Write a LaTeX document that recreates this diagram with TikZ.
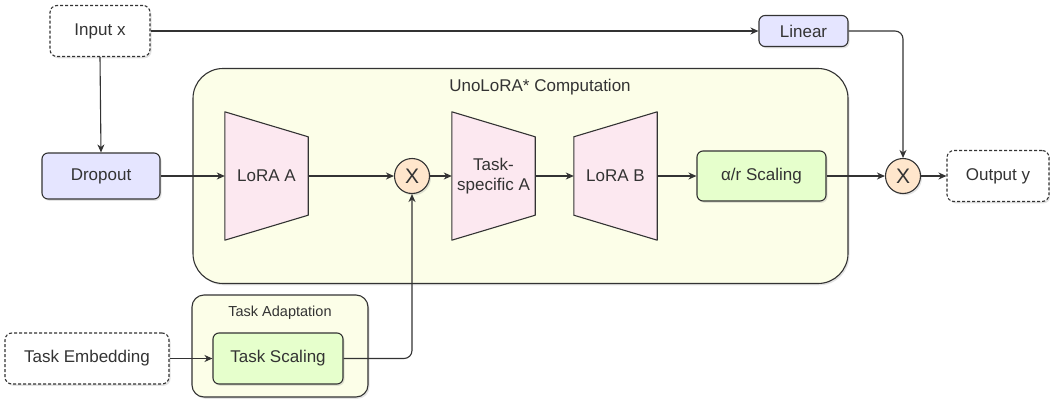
\documentclass[tikz,border=0pt]{standalone}
\usepackage{fontspec}
\setmainfont{Liberation Sans}
\usetikzlibrary{arrows.meta,shadows,calc}
\definecolor{lav}{HTML}{E5E5FF}
\definecolor{grn}{HTML}{E6FFCC}
\definecolor{cont}{HTML}{FCFEE8}
\definecolor{pnk}{HTML}{FCE8F0}
\definecolor{pch}{HTML}{FFE6CC}
\definecolor{ln}{HTML}{333333}
\tikzset{
  base/.style={draw=ln, line width=1.1pt, inner sep=0pt, text=ln,
    font=\fontsize{17}{20}\selectfont, align=center},
  shad/.style={drop shadow={shadow xshift=1.5pt, shadow yshift=-1.8pt, opacity=0.22}},
  iobox/.style={base, dashed, dash pattern=on 3pt off 2pt, rounded corners=7pt, fill=white, shad},
  lavbox/.style={base, rounded corners=6pt, fill=lav, shad},
  grnbox/.style={base, rounded corners=6pt, fill=grn, shad},
  container/.style={base, fill=cont, shad},
  mult/.style={base, circle, fill=pch, minimum size=35pt, shad, font=\fontsize{21}{24}\selectfont},
  trap/.style={inner sep=0pt, text=ln, font=\fontsize{17}{20}\selectfont, align=center,
    minimum width=83pt, minimum height=128pt},
  trapfill/.style={draw=ln, line width=1.1pt, fill=pnk, line join=round},
  conn/.style={draw=ln, line width=1.1pt, -{Stealth[length=8pt,width=7pt,inset=2.5pt]}},
  ttl/.style={text=ln, inner sep=0pt, font=\fontsize{17}{20}\selectfont}
}
\begin{document}
\begin{tikzpicture}[x=1pt,y=-1pt]
\useasboundingbox (0,0) rectangle (1050,399);
% containers
\node[container, rounded corners=30pt, minimum width=655pt, minimum height=215pt] (comp) at (520.5,176) {};
\node[ttl] (comptitle) at (540,87) {UnoLoRA* Computation};
\node[container, rounded corners=12pt, minimum width=176pt, minimum height=102pt] (adapt) at (280,346) {};
\node[ttl, font=\fontsize{14.5}{17}\selectfont] (adapttitle) at (280,313) {Task Adaptation};
% io
\node[iobox, minimum width=100pt, minimum height=51pt] (in) at (100,31) {Input x};
\node[iobox, minimum width=102pt, minimum height=51pt] (out) at (998,176) {Output y};
\node[iobox, minimum width=164pt, minimum height=51pt] (temb) at (87,358.5) {Task Embedding};
% boxes
\node[lavbox, minimum width=89pt, minimum height=31pt] (lin) at (803.5,31) {Linear};
\node[lavbox, minimum width=118pt, minimum height=46pt] (drop) at (101,176) {Dropout};
\node[grnbox, minimum width=129pt, minimum height=50pt] (scal) at (761.5,176) {α/r Scaling};
\node[grnbox, minimum width=130pt, minimum height=51pt] (tscal) at (278,358.5) {Task Scaling};
% trapezoids
\node[trap] (la) at (266.5,176) {};
\fill[trapfill] (la.north west) -- ($(la.north east)+(0,25)$) -- ($(la.south east)+(0,-25)$) -- (la.south west) -- cycle;
\node[ttl] at (la.center) {LoRA A};
\node[trap] (ta) at (493.5,176) {};
\fill[trapfill] (ta.north west) -- ($(ta.north east)+(0,25)$) -- ($(ta.south east)+(0,-25)$) -- (ta.south west) -- cycle;
\node[ttl, align=center] at (ta.center) {Task-\\specific A};
\node[trap] (lb) at (615.5,176) {};
\fill[trapfill] ($(lb.north west)+(0,25)$) -- (lb.north east) -- (lb.south east) -- ($(lb.south west)+(0,-25)$) -- cycle;
\node[ttl] at (lb.center) {LoRA B};
% multipliers
\node[mult] (m1) at (412,176) {X};
\node[mult] (m2) at (903,176) {X};
% connectors
\draw[conn] (in.east) -- (lin.west);
\draw[conn, rounded corners=8pt] (lin.east) -| (m2.north);
\draw[conn] (in.south) -- (drop.north);
\draw[conn] (drop.east) -- (la.west);
\draw[conn] (la.east) -- (m1.west);
\draw[conn] (m1.east) -- (ta.west);
\draw[conn] (ta.east) -- (lb.west);
\draw[conn] (lb.east) -- (scal.west);
\draw[conn] (scal.east) -- (m2.west);
\draw[conn] (m2.east) -- (out.west);
\draw[conn] (temb.east) -- (tscal.west);
\draw[conn, rounded corners=8pt] (tscal.east) -| (m1.south);
\end{tikzpicture}
\end{document}
